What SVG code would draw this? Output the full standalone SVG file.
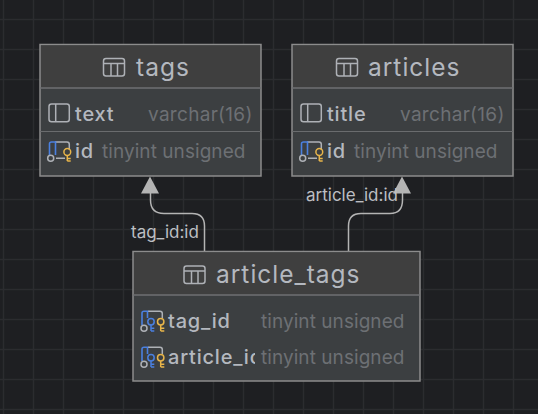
<svg xmlns="http://www.w3.org/2000/svg" width="538" height="414" viewBox="0 0 538 414">
<style>
text{font-family:Inter,"Noto Sans",sans-serif}
.box{fill:#3c3f41;stroke:#8c8c8c;stroke-width:1.5}
.head{fill:#3f3f3f}
.sep{stroke:#6f7173;stroke-width:1.5}
.sep2{stroke:#6a6c6e;stroke-width:1}
.title{font-size:24.500px;fill:#b4b8bf;letter-spacing:1px;font-weight:400}
.col{font-size:20px;fill:#b4b8bf;font-weight:500;letter-spacing:.8px}
.type{font-size:19px;fill:#6d7074;letter-spacing:.06px}
.type.v{letter-spacing:.3px}
.lbl{font-size:17px;fill:#bcbec2}
.ic{fill:none;stroke:#aeb1b6;stroke-width:1.5}
.conn{fill:none;stroke:#b4b4b4;stroke-width:1.5}
.arr{fill:#b4b4b4}
.grid{stroke:#2b2c2f;stroke-width:1.5}
.blue{fill:none;stroke:#4a80e0;stroke-width:1.6}
.key{fill:none;stroke:#e8b54a;stroke-width:1.5}
.bkey{fill:none;stroke:#4a80e0;stroke-width:1.5}
</style>
<defs>
<g id="tbl"><rect class="ic" x="0" y="0" width="21" height="17.500" rx="2.500"/><path class="ic" d="M0 5H21M7.500 5V17.500M14 5V17.500"/></g>
<g id="colic"><rect class="ic" x="0" y="-1" width="20.300" height="17.700" rx="2.500"/><path class="ic" d="M6.700 -1V16.700"/></g>
<g id="pk"><path class="ic" d="M6 0H18Q20.300 0 20.300 2.300V7.500M7 16.300H16"/><path class="blue" d="M0.500 13V2Q0.500 0 2.500 0H6.500V13"/><circle class="ic" cx="1.700" cy="16.300" r="3"/><circle class="key" cx="18.300" cy="10" r="3.400"/><path class="key" d="M18.300 13.400V19M18.300 16.500H21.700M18.300 19H21.700"/></g>
<g id="fk"><path class="ic" d="M6 -0.700H18Q20.300 -0.700 20.300 1.600V6"/><path class="blue" d="M0 13V1.300Q0 -0.700 2 -0.700H5.500V6"/><circle class="ic" cx="2" cy="16.300" r="3"/><circle class="bkey" cx="9" cy="9.700" r="3.200"/><path class="bkey" d="M9 12.900V19M9 16.300H12.300M9 19H12.300"/><circle class="key" cx="18.700" cy="9.700" r="3.200"/><path class="key" d="M18.700 12.900V19M18.700 16.300H22.300M18.700 19H22.300"/></g>
<clipPath id="clipname"><rect x="165" y="340" width="90" height="40"/></clipPath>
</defs>
<rect width="538" height="414" fill="#1e1f22"/>
<path class="grid" d="M3.500 0V414M33.500 0V414M63.500 0V414M93.500 0V414M123.500 0V414M153.500 0V414M183.500 0V414M213.500 0V414M243.500 0V414M273.500 0V414M303.500 0V414M333.500 0V414M363.500 0V414M393.500 0V414M423.500 0V414M453.500 0V414M483.500 0V414M513.500 0V414M0 19.500H538M0 49.500H538M0 79.500H538M0 109.500H538M0 139.500H538M0 169.500H538M0 199.500H538M0 229.500H538M0 259.500H538M0 289.500H538M0 319.500H538M0 349.500H538M0 379.500H538M0 409.500H538"/>
<g id="connectors">
<path class="conn" d="M204.500 251V226Q204.500 213.500 192 213.500H164Q150.500 213.500 150.500 200V190"/>
<path class="arr" d="M150 176.500L159 193.500H141Z"/>
<path class="conn" d="M348.500 251V226Q348.500 213.500 361 213.500H390Q402.500 213.500 402.500 200V190"/>
<path class="arr" d="M402 176.500L411 193.500H393Z"/>
<text class="lbl" x="131" y="238">tag_id:id</text>
<text class="lbl" x="306" y="201">article_id:id</text>
</g>
<g id="tags">
<rect class="box" x="40" y="44.500" width="221" height="131.500"/>
<rect class="head" x="41" y="45.500" width="219" height="42"/>
<path class="sep" d="M40 88H261"/><path class="sep2" d="M40 131.500H261"/>
<use href="#tbl" x="103.500" y="58.500"/>
<text class="title" x="136" y="76">tags</text>
<use href="#colic" x="49" y="105"/>
<text class="col" x="75" y="121">text</text>
<text class="type v" x="148" y="121">varchar(16)</text>
<use href="#pk" x="49" y="142"/>
<text class="col" x="75" y="158">id</text>
<text class="type" x="102" y="158">tinyint unsigned</text>
</g>
<g id="articles">
<rect class="box" x="292" y="44.500" width="221" height="131.500"/>
<rect class="head" x="293" y="45.500" width="219" height="42"/>
<path class="sep" d="M292 88H513"/><path class="sep2" d="M292 131.500H513"/>
<use href="#tbl" x="336.500" y="58.500"/>
<text class="title" x="368" y="76">articles</text>
<use href="#colic" x="301" y="105"/>
<text class="col" x="327" y="121">title</text>
<text class="type v" x="400" y="121">varchar(16)</text>
<use href="#pk" x="301" y="142"/>
<text class="col" x="327" y="158">id</text>
<text class="type" x="354" y="158">tinyint unsigned</text>
</g>
<g id="article_tags">
<rect class="box" x="133" y="251.500" width="287" height="129.500"/>
<rect class="head" x="134" y="252.500" width="285" height="42"/>
<path class="sep" d="M133 295H420"/>
<use href="#tbl" x="184" y="266"/>
<text class="title" x="216" y="283">article_tags</text>
<use href="#fk" x="142" y="312"/>
<text class="col" x="168" y="328">tag_id</text>
<text class="type" x="261" y="328">tinyint unsigned</text>
<use href="#fk" x="142" y="348"/>
<g clip-path="url(#clipname)"><text class="col" x="168" y="364">article_id</text></g>
<text class="type" x="261" y="364">tinyint unsigned</text>
</g>
</svg>
